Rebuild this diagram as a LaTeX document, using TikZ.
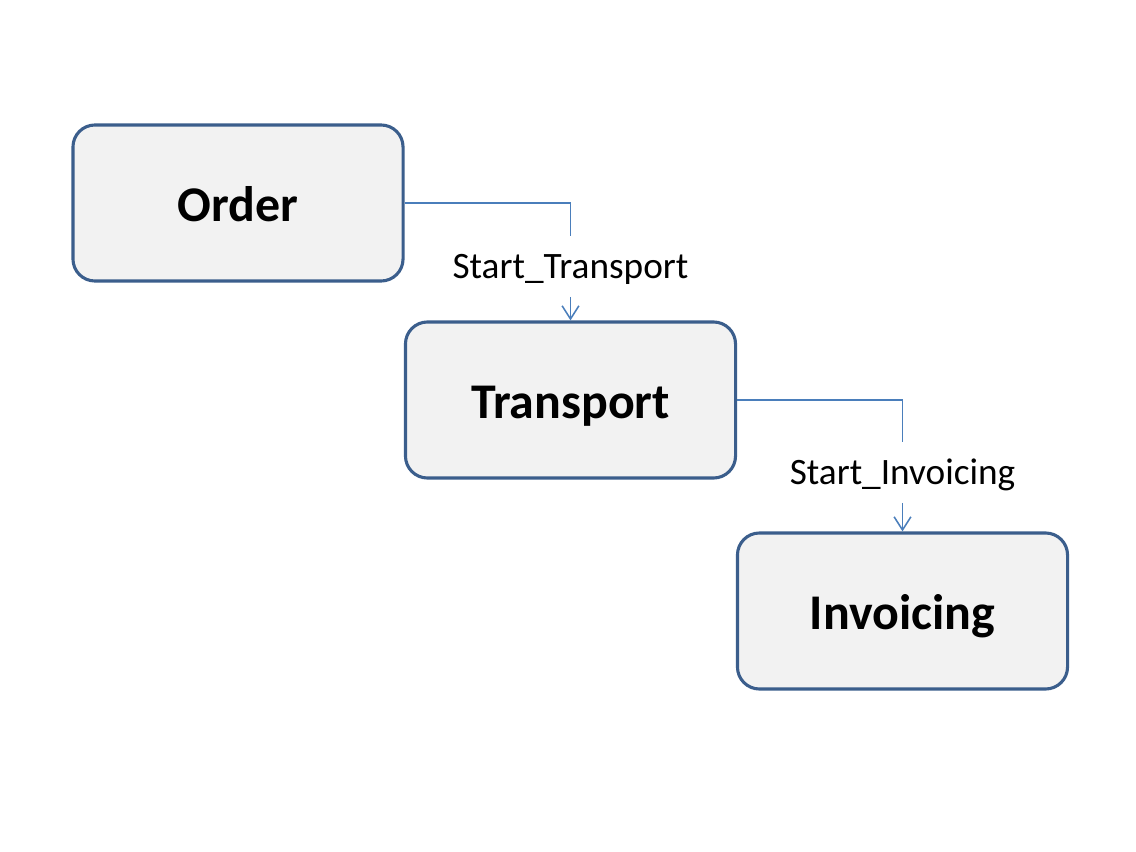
\documentclass[tikz,border=0pt]{standalone}
\usepackage{fontspec}
\setmainfont{Carlito}
\usetikzlibrary{arrows.meta,positioning}

\definecolor{boxline}{HTML}{3B5E8C}
\definecolor{boxfill}{HTML}{F2F2F2}
\definecolor{connline}{HTML}{4A7EBB}

\begin{document}
\begin{tikzpicture}[x=0.025cm,y=-0.025cm,
    task/.style={draw=boxline,fill=boxfill,line width=2.2pt,rounded corners=0.55cm,
      minimum width=8.25cm,minimum height=3.9cm,inner sep=0pt,
      text height=1.05cm,text depth=0.15cm,
      font=\fontsize{35.5}{40}\selectfont\bfseries},
    msg/.style={inner sep=0pt,text height=1.075cm,text depth=0.44cm,
      font=\fontsize{26.5}{30}\selectfont},
    conn/.style={draw=connline,line width=1.1pt},
    arr/.style={-{Straight Barb[length=0.33cm,width=0.42cm]}}]
  \useasboundingbox (0,0) rectangle (1136,852);
  \node[task] (order) at (238,203) {Order};
  \node[task] (transport) at (570.5,400) {Transport};
  \node[task] (invoicing) at (902.5,611) {Invoicing};
  \node[msg] (startT) at (570.5,266.25) {Start\_Transport};
  \node[msg] (startI) at (902.5,472.25) {Start\_Invoicing};
  \draw[conn] (order.east) -| (startT.north);
  \draw[conn,arr] (startT.south) -- (transport.north);
  \draw[conn] (transport.east) -| (startI.north);
  \draw[conn,arr] (startI.south) -- (invoicing.north);
\end{tikzpicture}
\end{document}
